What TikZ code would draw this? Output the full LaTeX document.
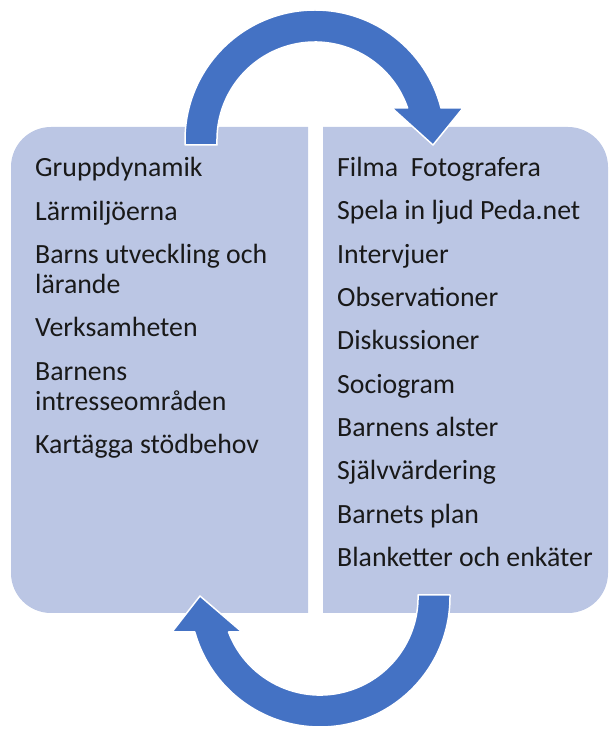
\documentclass[tikz,border=0pt]{standalone}
\usepackage{fontspec}
\setmainfont{Carlito}
\definecolor{panelblue}{RGB}{187,198,228}
\definecolor{arrowblue}{RGB}{68,114,196}
\definecolor{inkblack}{RGB}{25,25,25}

\begin{document}
\begin{tikzpicture}[
    x=1pt, y=1pt,
    panel/.style = {fill=panelblue},
    item/.style = {anchor=base west, inner sep=0pt, text=inkblack,
      font=\fontsize{27.8}{30}\selectfont},
    cyclearrow/.style = {fill=arrowblue, draw=white, line width=1.5pt,
      line join=round},
  ]
\useasboundingbox (0,0) rectangle (609,729);

% the two panels
\fill[panel] (308,116) -- (51,116) arc[start angle=270, end angle=180, radius=40]
  -- (11,562) arc[start angle=180, end angle=90, radius=40] -- (308,602) -- cycle;
\fill[panel] (323,116) -- (568,116) arc[start angle=-90, end angle=0, radius=40]
  -- (608,562) arc[start angle=0, end angle=90, radius=40] -- (323,602) -- cycle;

% left list
\foreach \y/\t [count=\i] in {177/Gruppdynamik, 221/Lärmiljöerna,
    264/Barns utveckling och, 294/lärande, 337/Verksamheten,
    381/Barnens, 411/intresseområden, 454/Kartägga stödbehov}
  \node[item] (l\i) at (35,729-\y) {\t};

% right list
\foreach \y/\t [count=\i] in {177/Filma\ \ Fotografera, 220/Spela in ljud Peda.net,
    264/Intervjuer, 307/Observationer, 350/Diskussioner, 394/Sociogram,
    437/Barnens alster, 480/Självvärdering, 524/Barnets plan,
    567/Blanketter och enkäter}
  \node[item] (r\i) at (337,729-\y) {\t};

% arrows
\coordinate (upc) at (315,589);
\coordinate (downc) at (320,132);
\begin{scope}[shift={(upc)}]
  \path[cyclearrow] (-98,-5) -- (-130,-5) -- (-130,0)
    arc[start angle=180, end angle=14.25, radius=130]
    -- (148,32) -- (118,-5) -- (77,32) -- (92.6,32)
    arc[start angle=19.06, end angle=180, radius=98] -- cycle;
\end{scope}
\begin{scope}[shift={(downc)}]
  \path[cyclearrow] (98,2) -- (130,2) -- (130,0)
    arc[start angle=0, end angle=-164.4, radius=130]
    -- (-148,-35) -- (-120,1) -- (-78,-35) -- (-91.5,-35)
    arc[start angle=-159.1, end angle=0, radius=98] -- cycle;
\end{scope}
\end{tikzpicture}
\end{document}
